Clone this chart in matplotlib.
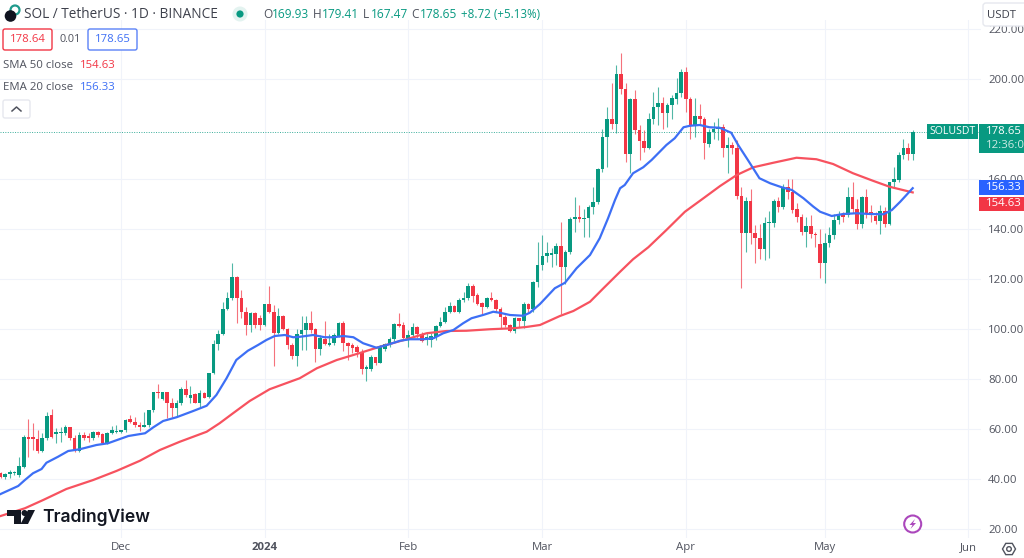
import matplotlib
matplotlib.use('Agg')
import matplotlib.pyplot as plt
from matplotlib.patches import Circle, FancyBboxPatch, Polygon, Rectangle
import numpy as np

plt.rcParams['font.family'] = ['Open Sans', 'DejaVu Sans']

opens = [42.3,40.9,42.0,42.3,41.6,45.0,56.6,56.6,56.1,51.3,
         56.6,65.6,58.0,58.3,58.3,60.9,56.5,51.2,57.5,57.2,
         56.5,58.8,57.9,54.5,58.3,58.8,58.9,59.5,63.9,62.9,
         61.7,60.9,61.6,67.5,74.8,72.0,74.8,70.3,68.3,70.3,
         75.9,72.3,74.0,70.5,74.3,72.7,82.3,93.9,98.0,107.9,
         112.3,120.9,112.5,106.9,101.6,106.3,104.3,101.6,110.0,106.9,
         98.3,105.2,100.0,93.7,89.2,98.0,99.6,102.3,99.9,91.9,
         95.9,93.6,94.3,97.2,102.3,94.5,93.7,92.9,90.7,83.9,
         84.0,88.7,86.5,91.9,93.9,95.9,102.0,101.6,96.5,97.6,
         100.7,98.0,95.9,95.6,96.7,101.2,102.7,107.0,109.2,107.0,
         111.6,112.3,117.2,113.6,110.3,108.7,112.4,111.6,107.9,104.9,
         101.6,99.3,104.3,103.3,110.0,107.9,118.9,125.6,129.2,129.6,
         130.0,133.3,124.9,130.7,144.0,144.8,144.0,144.5,149.0,151.0,
         163.9,176.7,184.0,182.0,202.0,196.0,169.9,191.9,179.6,175.2,
         172.5,184.0,188.9,190.5,186.3,189.6,192.0,194.3,202.7,192.0,
         181.3,185.2,184.0,174.0,178.9,179.9,181.0,172.5,173.5,172.5,
         153.3,138.3,151.2,138.6,136.3,131.9,142.3,142.3,151.3,148.7,
         156.9,154.9,148.0,144.9,138.9,141.3,138.0,134.0,126.5,134.5,
         137.5,143.6,145.6,145.6,152.7,148.0,142.0,152.7,147.0,145.2,
         143.3,147.3,142.0,158.7,159.6,169.6,172.5,169.93]
closes = [41.0,42.0,42.9,42.9,45.2,56.9,56.1,56.1,51.3,56.6,
          65.3,56.9,58.8,58.9,60.9,56.3,51.2,57.6,56.3,56.3,
          58.7,57.7,54.5,58.3,59.5,59.2,59.3,63.7,62.8,61.6,
          60.9,61.6,67.5,74.9,74.3,74.8,70.3,68.3,70.5,75.9,
          73.7,73.7,70.5,74.3,72.5,82.3,93.9,98.0,107.9,112.3,
          120.9,112.5,106.9,101.6,106.3,101.6,101.6,110.0,106.9,98.3,
          105.2,100.0,93.7,89.2,98.0,99.6,102.3,99.6,91.9,96.3,
          93.9,94.5,97.6,102.3,94.5,93.2,92.5,90.9,83.9,84.7,
          88.7,86.5,92.9,94.0,95.9,102.0,101.2,96.5,97.6,100.7,
          97.9,95.3,96.7,97.2,101.2,102.7,107.0,109.2,107.0,111.6,
          112.3,117.2,113.2,110.0,108.7,112.3,111.6,107.9,104.9,101.6,
          99.3,104.3,103.3,110.0,107.9,118.9,125.6,129.2,130.3,130.3,
          133.2,124.9,130.7,144.0,144.7,144.0,144.6,149.0,151.0,163.9,
          176.7,184.0,182.0,202.0,195.9,169.9,191.9,179.6,175.2,172.3,
          184.0,188.9,190.5,186.3,189.6,192.3,194.3,202.7,192.0,181.3,
          185.2,184.0,174.3,178.9,179.9,180.5,172.5,173.6,172.5,153.3,
          138.3,151.2,138.5,136.3,131.9,142.3,142.5,151.3,148.7,156.9,
          154.7,147.6,144.7,138.9,141.3,137.9,137.5,126.5,134.5,137.5,
          143.6,145.6,144.7,152.9,148.0,142.0,152.9,146.3,145.6,143.3,
          147.3,142.0,158.7,159.9,169.6,172.5,170.0,178.65]
highs = [43.0,42.5,43.6,43.4,48.9,57.6,64.0,62.3,59.6,58.3,
         66.7,68.0,60.3,60.9,61.6,61.0,57.6,58.9,58.9,58.3,
         59.3,59.2,58.3,58.9,61.2,61.6,59.8,64.0,65.6,64.9,
         62.9,66.9,67.6,74.9,77.9,75.0,75.0,72.3,71.6,76.9,
         79.6,77.2,74.3,75.6,74.9,82.5,95.6,99.6,110.9,114.9,
         126.5,121.2,115.6,108.9,106.9,106.9,105.6,110.0,117.2,109.6,
         108.3,105.6,100.3,94.3,99.9,105.2,105.3,107.3,100.3,97.6,
         103.2,98.0,98.5,102.9,103.3,94.9,94.3,93.6,91.9,85.6,
         89.6,88.9,93.6,94.5,96.7,102.3,106.5,102.9,99.6,102.5,
         101.2,98.9,98.3,98.3,101.6,104.9,108.7,110.9,109.6,112.3,
         114.9,118.5,118.2,114.3,110.9,112.9,114.9,112.1,108.7,105.6,
         102.0,104.9,104.5,110.9,110.3,119.3,134.9,137.6,135.0,132.3,
         134.4,142.9,131.5,145.0,152.9,149.7,148.0,149.5,156.7,164.5,
         180.0,189.0,198.4,205.5,210.5,198.5,192.5,195.8,181.6,179.6,
         186.5,194.8,196.9,192.9,190.5,193.6,200.3,204.0,205.0,193.0,
         192.3,190.0,185.0,180.0,183.0,184.5,182.0,177.0,175.0,175.6,
         156.7,153.0,156.0,141.6,142.0,145.0,147.3,152.0,153.0,158.0,
         160.0,160.0,150.3,146.0,145.0,145.5,139.0,140.0,138.5,141.0,
         146.0,147.3,147.0,157.0,158.9,152.0,153.3,156.0,149.5,147.0,
         149.7,149.0,159.0,165.0,171.0,176.0,174.5,179.41]
lows = [40.5,40.2,40.3,41.6,40.9,44.5,48.9,51.6,50.3,50.9,
        55.6,56.3,54.3,55.0,57.6,55.6,50.9,50.9,55.6,55.0,
        55.6,56.9,54.0,54.0,58.0,58.6,58.5,58.9,62.5,60.9,
        59.3,60.9,60.9,67.0,72.3,71.6,64.3,65.0,65.2,69.6,
        73.0,70.3,70.3,68.9,72.3,72.3,82.0,91.6,97.6,107.6,
        111.6,102.5,104.3,97.6,98.9,100.3,99.6,101.2,106.5,85.2,
        98.0,99.6,91.9,87.9,85.2,91.6,91.6,98.3,86.9,89.6,
        93.6,93.3,93.6,96.7,91.3,87.6,90.3,88.9,82.0,79.3,
        83.3,85.6,86.3,91.3,93.0,95.3,100.7,95.9,92.9,96.9,
        96.3,94.9,93.6,92.7,95.6,100.7,102.3,106.3,106.8,106.3,
        110.9,111.6,110.9,109.6,105.6,108.3,111.2,106.9,100.3,100.9,
        98.9,98.5,100.9,100.3,106.9,106.9,117.0,123.6,127.0,125.0,
        125.6,106.0,118.0,130.0,138.9,143.0,137.0,136.7,146.0,150.0,
        163.0,165.0,180.0,178.6,194.0,167.0,162.6,178.0,167.6,171.0,
        172.0,182.0,181.6,180.0,181.0,184.0,190.0,193.0,187.0,176.2,
        177.0,182.0,168.0,173.0,176.0,175.5,169.0,162.6,170.0,152.0,
        116.3,130.7,134.0,126.5,128.0,127.5,128.5,141.0,147.0,148.0,
        152.0,146.5,143.0,137.6,132.9,136.5,133.0,120.6,118.6,133.0,
        136.0,142.0,143.0,145.0,146.5,140.0,140.5,144.6,143.0,142.0,
        138.0,141.0,141.5,157.0,159.0,168.0,167.5,167.47]

# days counted from 5 Nov 2023
ema_days = [0,3.8,5.25,7,8.85,9.9,12.4,14.6,17.1,20.7,23.2,27.6,31.2,33,35.1,38,41.6,44.5,46.6,48.8,
            50.9,53.4,55.6,57.4,59.2,61.4,63.2,64.7,67.5,70,71.9,74,76.2,78.3,81.2,83.4,86.3,88.4,91.3,93.5,
            95.6,97.8,99.9,101.7,104.2,106.4,107.8,110,112.9,114.3,116.5,119.7,121.9,124.4,127.3,129.4,131.2,132.7,133.8,134.8,
            136.6,138.8,140.6,143.8,145.6,147.5,148.9,151,153.1,155.3,157.8,159.3,161.4,163.9,166.2,168.7,170.9,173.4,175.5,177,
            179.5,182,184.9,187.8,190.7,192.5,194.3,197]
ema_vals = [34,37.2,39.6,42.3,44,46.5,48.9,51.2,51.9,53.6,54.3,57.2,58.3,60.7,63.2,64.7,67.2,69.3,73.6,80.3,
            87.6,91.3,93.6,95.6,97.2,97.6,96.7,96.9,97.6,96.7,96.7,97.2,96.7,94.3,92.5,93.6,95.3,95.9,95.9,96.3,
            98.3,99.6,102.3,104.3,105.6,106.9,106.5,105.6,105.3,106.5,110,116.3,118.5,124.3,129.6,136.3,144.3,151.6,156.3,157.6,
            162.3,164.7,167.6,173.6,176.3,180.7,181.3,181.6,180.7,180.5,178.5,173.6,167.6,160.3,158.3,156.7,155.6,152.3,149,146.9,
            145.2,146,146.3,146,145.9,147.6,150.9,156.33]
sma_days = [0,5.25,9.2,14.2,20,25,30.1,34.4,38.7,44.5,47.3,50.2,53.8,58.1,64.6,68.3,72.6,76.9,81.9,87.7,
            92,96.3,100.6,105.7,110.7,113.5,116.5,120.8,123.7,127.3,130.2,133.8,136.6,139.9,143.8,147.8,151.8,155.4,159,162.6,
            166.9,171.9,176.2,179.8,184.1,188.4,192,197]
sma_vals = [25.2,28.3,31.6,36,39.6,43.2,47.3,51.6,54.9,58.9,62.3,66.3,71.2,75.9,80.3,84.3,87.6,90,92.9,95.9,
            98.3,99.2,99.3,99.9,100.3,100.8,101.6,105.2,107.2,110.9,116.3,122.9,127.9,132.7,139.6,146.9,152.3,157.2,161.6,164.7,
            166.5,168.5,167.9,166,162.3,159.3,156.9,154.63]

price_ticks = [20,40,60,80,100,120,140,160,200,220]
month_days = [26,57,88,117,148,178,209]
month_labels = ['Dec','2024','Feb','Mar','Apr','May','Jun']
last_price = 178.65

UP = '#089981'
DOWN = '#f23645'
GREY = '#50535e'

fig = plt.figure(figsize=(10.24,5.58), dpi=100)
ax = fig.add_axes([0,20/558,981/1024,518/558])
for s in ax.spines.values():
    s.set_visible(False)

ax.set_xlim(-0.13,211.75)
ax.set_ylim(200-(538-79)/2.5, 200-(20-79)/2.5)

days = np.arange(len(opens))
o = np.array(opens)
c = np.array(closes)
cols = [UP if b >= a else DOWN for a, b in zip(o, c)]

ax.set_axisbelow(True)
ax.grid(True, color='#f0f3fa', lw=0.8)
ax.vlines(days, lows, highs, colors=cols, lw=0.8, alpha=0.7, zorder=2)
ax.bar(days, np.maximum(np.abs(c-o),0.6), bottom=np.minimum(o,c), width=0.78, color=cols, lw=0, zorder=3)
ax.plot(sma_days, sma_vals, color='#f7525f', lw=1.6, zorder=4)
ax.plot(ema_days, ema_vals, color='#3d6ff5', lw=1.6, zorder=5)
ax.axhline(last_price, color=UP, lw=0.7, ls=(0,(1,1.5)), alpha=0.8, zorder=1)

ax.set_yticks(price_ticks)
ax.set_yticklabels(['%.2f' % p for p in price_ticks])
ax.yaxis.tick_right()
ax.set_xticks(month_days)
ax.set_xticklabels(month_labels)
ax.tick_params(length=0, labelsize=8.2, labelcolor=GREY, pad=5)
ax.tick_params(axis='x', pad=3)
ax.get_xticklabels()[1].set_fontweight('bold')

# overlay in pixels for header, price tags and logo
ov = fig.add_axes([0,0,1,1], zorder=5)
ov.set_xlim(0,1024)
ov.set_ylim(558,0)
ov.axis('off')

def put(x, y, s, color=GREY, size=8.2, ha='left', **kw):
    ov.text(x, y, s, color=color, fontsize=size, ha=ha, va='center', **kw)

def rbox(x0, y0, x1, y1, fc, ec, lw=1.0, r=2):
    ov.add_patch(FancyBboxPatch((x0+r,y0+r), x1-x0-2*r, y1-y0-2*r, boxstyle='round,pad=%d' % r,
                                fc=fc, ec=ec, lw=lw, zorder=3))

# symbol icon
ov.add_patch(Circle((15,10), 4.5, fc='none', ec='#1f9a8c', lw=1.6))
ov.add_patch(Circle((10.5,16), 5.8, fc='#10131f', ec='none'))
put(24, 15, 'SOL / TetherUS · 1D · BINANCE', size=9.8, color='#3d404b')
ov.add_patch(Circle((240,14), 7.5, fc='#e3f3f0', ec='none'))
ov.add_patch(Circle((240,14), 3.6, fc=UP, ec='none'))

for lx, vx, lab, val in [(263,272,'O','169.93'),(313,322,'H','179.41'),(363,371,'L','167.47'),(411,420,'C','178.65')]:
    put(lx, 15, lab, size=8.6)
    put(vx, 15, val, color=UP, size=8.6)
put(461, 15, '+8.72 (+5.13%)', color=UP, size=8.4)

rbox(3,29,52,50,'white',DOWN)
put(27.5, 40, '178.64', color=DOWN, ha='center', zorder=4)
put(60, 40, '0.01', size=7.8)
rbox(88,29,137,50,'white','#5b82f7')
put(112.5, 40, '178.65', color='#3d6ff5', ha='center', zorder=4)
put(3, 66, 'SMA 50 close')
put(80, 66, '154.63', color=DOWN)
put(3, 87, 'EMA 20 close')
put(80, 87, '156.33', color='#3d6ff5')
rbox(3,100,30,118,'white','#e6e8ee')
ov.plot([12,16.5,21],[111,107,111], color='#50535e', lw=1.1, zorder=4)

# right hand price tags
rbox(983,3,1030,26,'white','#e6e8ee',r=3)
put(987, 15, 'USDT', color='#3d404b', zorder=4)
ov.add_patch(Rectangle((927,124),51,15, fc=UP, ec='none', zorder=3))
put(952.5, 132, 'SOLUSDT', color='white', size=7.6, ha='center', zorder=4)
ov.add_patch(Rectangle((979,124),45,29, fc=UP, ec='none', zorder=3))
put(986, 132, '178.65', color='white', zorder=4)
put(986, 145, '12:36:0', color='#cdeae4', zorder=4)
ov.add_patch(Rectangle((979,180),45,15, fc='#2962ff', ec='none', zorder=3))
put(986, 188, '156.33', color='white', zorder=4)
ov.add_patch(Rectangle((979,197),45,14, fc=DOWN, ec='none', zorder=3))
put(986, 204, '154.63', color='white', zorder=4)

# TradingView logo
ov.add_patch(Polygon([(7,510),(21,510),(21,524),(14,524),(14,516),(7,516)], fc='#131722', ec='none', zorder=3))
ov.add_patch(Circle((24.5,513), 3, fc='#131722', ec='none', zorder=3))
ov.add_patch(Polygon([(28,510),(35,510),(28,524),(20.5,524)], fc='#131722', ec='none', zorder=3))
ov.text(42, 517, 'TradingView', color='#131722', fontsize=12.6, fontweight='semibold', va='center',
        family=['Inter','DejaVu Sans'])

# bolt badge
ov.add_patch(Circle((912.7,524), 8.5, fc='white', ec='#ab47bc', lw=1.5, zorder=3))
ov.add_patch(Polygon([(915,519),(909.5,525),(912.5,525),(910.5,529),(916,523),(913,523)], fc='#ab47bc', ec='none', zorder=4))

# settings hexagon
ang = np.radians(np.arange(0,360,60))
ov.add_patch(Polygon(np.c_[1009+6.5*np.cos(ang), 549+6.5*np.sin(ang)], fc='white', ec='#50535e', lw=1.0))
ov.add_patch(Circle((1009,549), 2.3, fc='white', ec='#50535e', lw=1.0))

fig.savefig('out.png', dpi=100, facecolor='white')
